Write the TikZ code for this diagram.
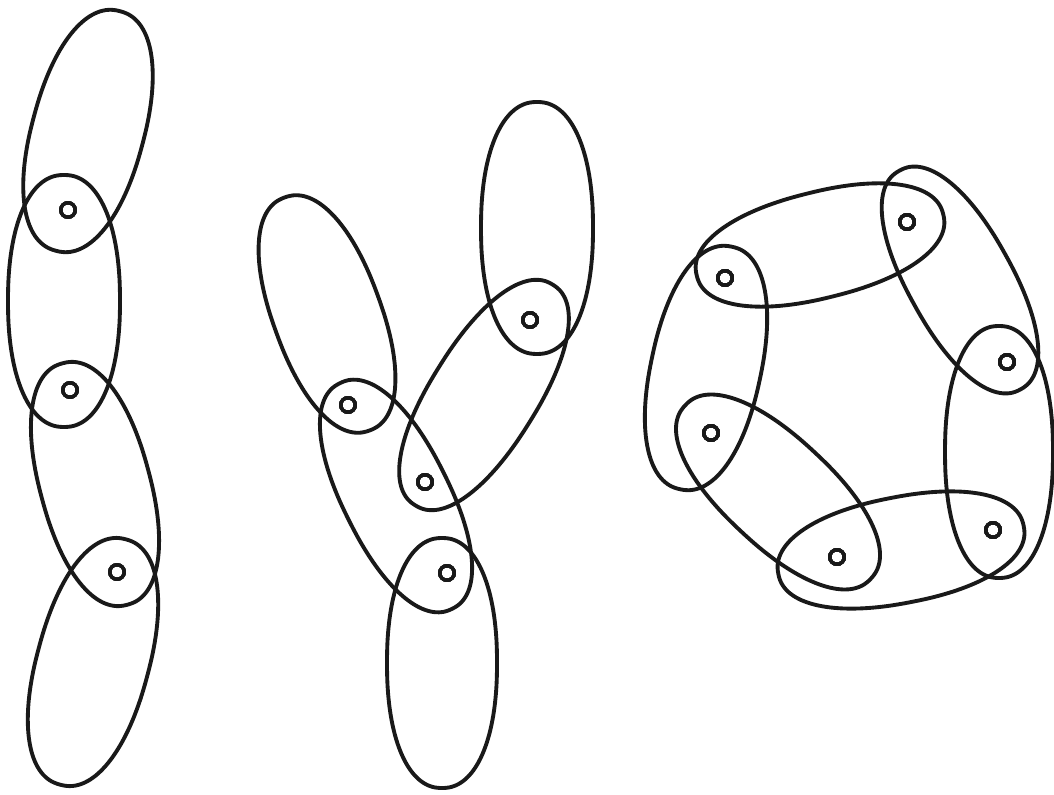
\documentclass[tikz,border=0pt]{standalone}
\usepackage{tikz}
\usetikzlibrary{positioning}
\tikzset{
  hedge/.style={draw=black!90,line width=1.1pt,smooth cycle,domain=2.5:357.5,samples=72,variable=\t},
  vtx/.style={circle,draw=black!90,line width=0.95pt,minimum size=1.45mm,inner sep=0pt}
}
% blunt-ended oval (superellipse), centre, angle, half length, half width
\newcommand{\hyperedge}[5]{%
  \draw[hedge,shift={(#1,#2)},rotate=#3] plot
    ({#4*sign(cos(\t))*abs(cos(\t))^0.9},{#5*sign(sin(\t))*abs(sin(\t))^0.9});}
\begin{document}
\begin{tikzpicture}[x=0.1mm,y=-0.1mm]
\useasboundingbox (0,0) rectangle (1054,794);
% chain
\foreach \cx/\cy/\ang/\ra/\rb in {88/131/75/124/56, 64/301/90/126/56, 95/484/105/125/55, 93/662/75/127/56}
  \hyperedge{\cx}{\cy}{\ang}{\ra}{\rb}
\foreach \n/\x/\y in {a1/68/210, a2/70/390, a3/117/572}
  \node[vtx] (\n) at (\x,\y) {};
% branching
\foreach \cx/\cy/\ang/\ra/\rb in {327/314/110/124/54, 537/228/90/126/56, 484/395/58/130/53, 396/496/116.5/126/53, 442/663/90/125/55}
  \hyperedge{\cx}{\cy}{\ang}{\ra}{\rb}
\foreach \n/\x/\y in {b1/348/405, b2/530/320, b3/425/482, b4/447/573}
  \node[vtx] (\n) at (\x,\y) {};
% cycle
\foreach \cx/\cy/\ang/\ra/\rb in {820/245/14/127/53, 960/280/-61/125/52, 999/452/90/126/54, 901/550/11/125/53, 778/492/-43/127/54, 706/368/78/124/55}
  \hyperedge{\cx}{\cy}{\ang}{\ra}{\rb}
\foreach \n/\x/\y in {c1/725/278, c2/907/222, c3/1007/362, c4/993/530, c5/837/557, c6/711/433}
  \node[vtx] (\n) at (\x,\y) {};
\end{tikzpicture}
\end{document}
